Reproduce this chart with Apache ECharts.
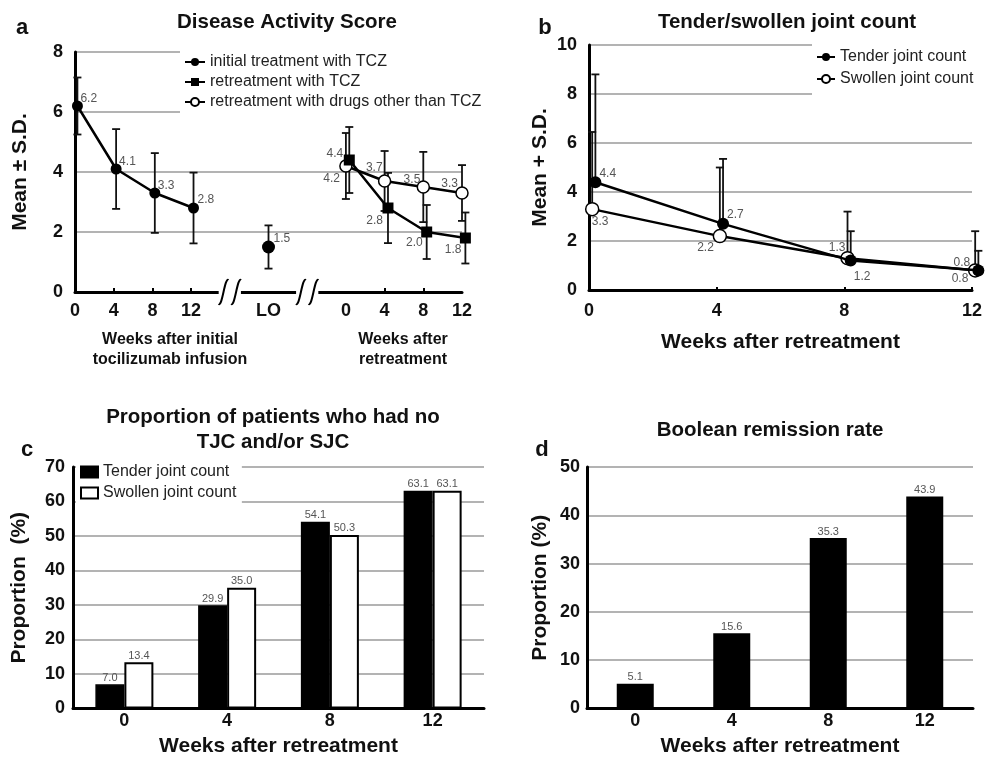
<!DOCTYPE html>
<html><head><meta charset="utf-8">
<script src="https://cdn.jsdelivr.net/npm/echarts@6/dist/echarts.min.js"></script>
<style>html,body{margin:0;padding:0;background:#fff}#c{width:985px;height:758px}</style>
</head><body><div id="c"></div>
<script>
// ---------- Panel a: Disease Activity Score ----------
const aTickPos = [0, 4, 8, 12, 20, 28, 32, 36, 40];
const aTickLabels = ['0', '4', '8', '12', 'LO', '0', '4', '8', '12'];
const aInitWeeks = [0, 4, 8, 12];
const aInitMean = [6.2, 4.1, 3.3, 2.8];
const aInitSD = [0.95, 1.33, 1.33, 1.18];
const aLOWeek = [20];
const aLOMean = [1.5];
const aLOSD = [0.72];
const aRetWeeks = [28, 32, 36, 40];
const aTczMean = [4.4, 2.8, 2.0, 1.8];
const aTczSD = [1.1, 1.17, 0.9, 0.85];
const aOtherMean = [4.2, 3.7, 3.5, 3.3];
const aOtherSD = [1.1, 1.0, 1.17, 0.93];
const aBreaks = [16, 24];
const aNames = ['initial treatment with TCZ', 'retreatment with TCZ', 'retreatment with drugs other than TCZ'];

// ---------- Panel b: Tender/swollen joint count ----------
const bWeeks = [0, 4, 8, 12];
const bTender = [4.4, 2.7, 1.2, 0.8];
const bTenderSD = [4.4, 2.65, 1.2, 0.8];
const bSwollen = [3.3, 2.2, 1.3, 0.8];
const bSwollenSD = [3.15, 2.8, 1.9, 1.6];
const bNames = ['Tender joint count', 'Swollen joint count'];

// ---------- Panel c: Proportion with no TJC/SJC ----------
const cWeeks = ['0', '4', '8', '12'];
const cTender = [7.0, 29.9, 54.1, 63.1];
const cSwollen = [13.4, 35.0, 50.3, 63.1];
const cNames = ['Tender joint count ', 'Swollen joint count '];

// ---------- Panel d: Boolean remission rate ----------
const dWeeks = ['0', '4', '8', '12'];
const dRemission = [5.1, 15.6, 35.3, 43.9];

// ---------- styling helpers ----------
const FONT = 'Liberation Sans, Arial, sans-serif';
const INK = '#111';
const LABEL_GREY = '#555';
const GRID_GREY = '#9a9a9a';

function lab(align, dx, dy) {
  return { show: true, position: 'inside', align: align, verticalAlign: 'middle', offset: [dx, dy],
    color: LABEL_GREY, fontSize: 12, fontFamily: FONT, formatter: p => p.value[1].toFixed(1) };
}
const aInitLab = [lab('left', 3, -7), lab('left', 3, -7), lab('left', 3, -7), lab('left', 4, -8)];
const aLOLab = [lab('left', 5, -8)];
const aTczLab = [lab('right', -6, -6), lab('right', -5, 13), lab('right', -4, 11), lab('right', -4, 12)];
const aOtherLab = [lab('right', -6, 13), lab('right', -2, -13), lab('right', -3, -7), lab('right', -4, -9)];
const bTenderLab = [lab('left', 4, -9), lab('left', 4, -9), lab('left', 3, 16), lab('right', -10, 8)];
const bSwollenLab = [lab('center', 8, 13), lab('right', -6, 12), lab('right', -2, -10), lab('right', -5, -8)];

const aInitOff = 0.25, aTczOff = 0.35, aOtherOff = 0.0;
const bTenderOff = 0.2, bSwollenOff = 0.1;

function pts(xs, ys, off, labs) {
  return ys.map((v, i) => ({ value: [xs[i] + off, v], label: labs[i] }));
}
function errs(xs, ys, sds, off, both) {
  return ys.map((v, i) => [xs[i] + off, both ? v - sds[i] : v, v + sds[i]]);
}
function errRender(capHalf, lowerCap) {
  return function (params, api) {
    const x = api.value(0), lo = api.value(1), hi = api.value(2);
    const p1 = api.coord([x, lo]), p2 = api.coord([x, hi]);
    const st = { stroke: '#111', lineWidth: 1.8 };
    const ch = [
      { type: 'line', shape: { x1: p1[0], y1: p1[1], x2: p2[0], y2: p2[1] }, style: st },
      { type: 'line', shape: { x1: p2[0] - capHalf, y1: p2[1], x2: p2[0] + capHalf, y2: p2[1] }, style: st }
    ];
    if (lowerCap) ch.push({ type: 'line', shape: { x1: p1[0] - capHalf, y1: p1[1], x2: p1[0] + capHalf, y2: p1[1] }, style: st });
    return { type: 'group', children: ch };
  };
}
function breakRender(params, api) {
  const c = api.value(0);
  const p = api.coord([c, 0]);
  const pl = api.coord([c - 1.15, 0]), pr = api.coord([c + 1.15, 0]);
  const sl = api.coord([c - 0.65, 0]), sr = api.coord([c + 0.65, 0]);
  const st = { stroke: '#000', lineWidth: 2, fill: null };
  function s(x) {
    return { type: 'bezierCurve', shape: { x1: x - 5, y1: p[1] + 12, cpx1: x - 1, cpy1: p[1] + 15, cpx2: x + 1, cpy2: p[1] - 15, x2: x + 5, y2: p[1] - 12 }, style: st };
  }
  return { type: 'group', children: [
    { type: 'rect', shape: { x: pl[0], y: p[1] - 3, width: pr[0] - pl[0], height: 6 }, style: { fill: '#fff' } },
    s(sl[0]), s(sr[0])
  ] };
}

const tickLabelStyle = { color: INK, fontSize: 18, fontWeight: 'bold', fontFamily: FONT };
const axisNameStyle = { color: INK, fontSize: 21, fontWeight: 'bold', fontFamily: FONT };
const thickLine = { show: true, lineStyle: { color: '#000', width: 3 } };
const gridSplit = { show: true, lineStyle: { color: GRID_GREY, width: 1.5 } };
const legendText = { fontSize: 16, color: '#222', fontFamily: FONT };

function txt(text, x, y, size, family) {
  return { type: 'text', z: 100, style: { text: text, x: x, y: y, font: 'bold ' + size + 'px ' + (family || FONT),
    fill: INK, textAlign: 'center', textVerticalAlign: 'middle', align: 'center', verticalAlign: 'middle' } };
}

const option = {
  animation: false,
  backgroundColor: '#fff',
  grid: [
    { left: 75, top: 52, right: 523, bottom: 466 },
    { left: 589, top: 45, right: 10, bottom: 468 },
    { left: 73, top: 467, right: 501, bottom: 49 },
    { left: 587, top: 467, right: 12, bottom: 49 }
  ],
  xAxis: [
    { gridIndex: 0, type: 'value', min: 0, max: 40, axisLine: thickLine,
      axisTick: { show: true, inside: true, length: 4, customValues: [4, 8, 12, 32, 36], lineStyle: { color: '#000', width: 2 } },
      axisLabel: Object.assign({ customValues: aTickPos, margin: 10, formatter: v => aTickLabels[aTickPos.indexOf(v)] }, tickLabelStyle),
      splitLine: { show: false } },
    { gridIndex: 1, type: 'value', min: 0, max: 12, interval: 4, axisLine: thickLine,
      axisTick: { show: true, inside: true, length: 3, lineStyle: { color: '#000', width: 2 } },
      axisLabel: Object.assign({ margin: 12 }, tickLabelStyle), splitLine: { show: false },
      name: 'Weeks after retreatment', nameLocation: 'middle', nameGap: 41.5, nameTextStyle: axisNameStyle },
    { gridIndex: 2, type: 'category', data: cWeeks, axisLine: thickLine, axisTick: { show: false },
      axisLabel: Object.assign({ margin: 4 }, tickLabelStyle),
      name: 'Weeks after retreatment', nameLocation: 'middle', nameGap: 27.5, nameTextStyle: axisNameStyle },
    { gridIndex: 3, type: 'category', data: dWeeks, axisLine: thickLine, axisTick: { show: false },
      axisLabel: Object.assign({ margin: 4 }, tickLabelStyle),
      name: 'Weeks after retreatment', nameLocation: 'middle', nameGap: 27.5, nameTextStyle: axisNameStyle }
  ],
  yAxis: [
    { gridIndex: 0, type: 'value', min: 0, max: 8, interval: 2, axisLine: thickLine, axisTick: { show: false },
      axisLabel: Object.assign({ margin: 12 }, tickLabelStyle), splitLine: gridSplit,
      name: 'Mean ± S.D.', nameLocation: 'middle', nameGap: 44.5, nameTextStyle: axisNameStyle },
    { gridIndex: 1, type: 'value', min: 0, max: 10, interval: 2, axisLine: thickLine, axisTick: { show: false },
      axisLabel: Object.assign({ margin: 12 }, tickLabelStyle), splitLine: gridSplit,
      name: 'Mean + S.D.', nameLocation: 'middle', nameGap: 38.5, nameTextStyle: axisNameStyle },
    { gridIndex: 2, type: 'value', min: 0, max: 70, interval: 10, axisLine: thickLine, axisTick: { show: false },
      axisLabel: Object.assign({ margin: 8 }, tickLabelStyle), splitLine: gridSplit,
      name: 'Proportion  (%)', nameLocation: 'middle', nameGap: 43.5, nameTextStyle: axisNameStyle },
    { gridIndex: 3, type: 'value', min: 0, max: 50, interval: 10, axisLine: thickLine, axisTick: { show: false },
      axisLabel: Object.assign({ margin: 7 }, tickLabelStyle), splitLine: gridSplit,
      name: 'Proportion (%)', nameLocation: 'middle', nameGap: 36.5, nameTextStyle: axisNameStyle }
  ],
  legend: [
    { data: aNames, left: 180, top: 48, orient: 'vertical', itemWidth: 20, itemHeight: 10, itemGap: 4,
      padding: [6, 8, 5, 4], backgroundColor: '#fff', textStyle: legendText, selectedMode: false, z: 20 },
    { data: bNames, left: 812, top: 40, orient: 'vertical', itemWidth: 18, itemHeight: 10, itemGap: 6,
      padding: [9, 12, 10, 4], backgroundColor: '#fff', textStyle: legendText, selectedMode: false, z: 20 },
    { data: cNames.map(n => ({ name: n, icon: 'rect' })), left: 76, top: 461, orient: 'vertical', itemWidth: 17, itemHeight: 11, itemGap: 5,
      padding: [3, 1, 3, 4], backgroundColor: '#fff', textStyle: legendText, selectedMode: false, z: 20 }
  ],
  graphic: [
    txt('a', 22, 28, 22),
    txt('Disease Activity Score', 287, 22, 20.5),
    txt('b', 545, 28, 22),
    txt('Tender/swollen joint count', 787, 22, 20.5),
    txt('c', 27, 450, 22),
    txt('Proportion of patients who had no', 273, 417, 20.5),
    txt('TJC and/or SJC', 273, 442, 20.5),
    txt('d', 542, 450, 22),
    txt('Boolean remission rate', 770, 430, 20.5),
    txt('Weeks after initial', 170, 340, 16),
    txt('tocilizumab infusion', 170, 360, 16),
    txt('Weeks after', 403, 340, 16),
    txt('retreatment', 403, 360, 16)
  ],
  series: [
    // panel a error bars
    { type: 'custom', xAxisIndex: 0, yAxisIndex: 0, renderItem: errRender(4, true), encode: { x: 0, y: [1, 2] }, clip: false, z: 1,
      data: errs(aInitWeeks, aInitMean, aInitSD, aInitOff, true) },
    { type: 'custom', xAxisIndex: 0, yAxisIndex: 0, renderItem: errRender(4, true), encode: { x: 0, y: [1, 2] }, clip: false, z: 1,
      data: errs(aLOWeek, aLOMean, aLOSD, 0, true) },
    { type: 'custom', xAxisIndex: 0, yAxisIndex: 0, renderItem: errRender(4, true), encode: { x: 0, y: [1, 2] }, clip: false, z: 1,
      data: errs(aRetWeeks, aTczMean, aTczSD, aTczOff, true) },
    { type: 'custom', xAxisIndex: 0, yAxisIndex: 0, renderItem: errRender(4, true), encode: { x: 0, y: [1, 2] }, clip: false, z: 1,
      data: errs(aRetWeeks, aOtherMean, aOtherSD, aOtherOff, true) },
    // panel a lines
    { name: aNames[0], type: 'line', xAxisIndex: 0, yAxisIndex: 0, clip: false, z: 3,
      symbol: 'circle', symbolSize: 11, itemStyle: { color: '#000' }, lineStyle: { color: '#000', width: 2.5 },
      data: pts(aInitWeeks, aInitMean, aInitOff, aInitLab) },
    { name: 'LO', type: 'line', xAxisIndex: 0, yAxisIndex: 0, clip: false, z: 3,
      symbol: 'circle', symbolSize: 13, itemStyle: { color: '#000' }, lineStyle: { width: 0 },
      data: pts(aLOWeek, aLOMean, 0, aLOLab) },
    { name: aNames[1], type: 'line', xAxisIndex: 0, yAxisIndex: 0, clip: false, z: 4,
      symbol: 'rect', symbolSize: 11, itemStyle: { color: '#000' }, lineStyle: { color: '#000', width: 2.5 },
      data: pts(aRetWeeks, aTczMean, aTczOff, aTczLab) },
    { name: aNames[2], type: 'line', xAxisIndex: 0, yAxisIndex: 0, clip: false, z: 3,
      symbol: 'circle', symbolSize: 12, itemStyle: { color: '#fff', borderColor: '#000', borderWidth: 1.5 },
      lineStyle: { color: '#000', width: 2.5 },
      data: pts(aRetWeeks, aOtherMean, aOtherOff, aOtherLab) },
    // panel a axis breaks
    { type: 'custom', xAxisIndex: 0, yAxisIndex: 0, renderItem: breakRender, encode: { x: 0 }, clip: false, z: 10, silent: true,
      data: aBreaks.map(v => [v]) },
    // panel b error bars (mean + SD)
    { type: 'custom', xAxisIndex: 1, yAxisIndex: 1, renderItem: errRender(4, false), encode: { x: 0, y: [1, 2] }, clip: false, z: 1,
      data: errs(bWeeks, bTender, bTenderSD, bTenderOff, false) },
    { type: 'custom', xAxisIndex: 1, yAxisIndex: 1, renderItem: errRender(4, false), encode: { x: 0, y: [1, 2] }, clip: false, z: 1,
      data: errs(bWeeks, bSwollen, bSwollenSD, bSwollenOff, false) },
    // panel b lines
    { name: bNames[0], type: 'line', xAxisIndex: 1, yAxisIndex: 1, clip: false, z: 4,
      symbol: 'circle', symbolSize: 12, itemStyle: { color: '#000' }, lineStyle: { color: '#000', width: 2.5 },
      data: pts(bWeeks, bTender, bTenderOff, bTenderLab) },
    { name: bNames[1], type: 'line', xAxisIndex: 1, yAxisIndex: 1, clip: false, z: 3,
      symbol: 'circle', symbolSize: 13, itemStyle: { color: '#fff', borderColor: '#000', borderWidth: 1.5 },
      lineStyle: { color: '#000', width: 2.5 },
      data: pts(bWeeks, bSwollen, bSwollenOff, bSwollenLab) },
    // panel c bars
    { name: cNames[0], type: 'bar', xAxisIndex: 2, yAxisIndex: 2, barWidth: 29, barGap: '0%',
      itemStyle: { color: '#000', borderColor: '#000', borderWidth: 1.5 },
      label: { show: true, position: 'top', distance: 1, color: LABEL_GREY, fontSize: 11, fontFamily: FONT, formatter: p => p.value.toFixed(1) },
      data: cTender },
    { name: cNames[1], type: 'bar', xAxisIndex: 2, yAxisIndex: 2, barWidth: 29, barGap: '0%',
      itemStyle: { color: '#fff', borderColor: '#000', borderWidth: 2 },
      label: { show: true, position: 'top', distance: 1, color: LABEL_GREY, fontSize: 11, fontFamily: FONT, formatter: p => p.value.toFixed(1) },
      data: cSwollen },
    // panel d bars
    { name: 'Boolean remission', type: 'bar', xAxisIndex: 3, yAxisIndex: 3, barWidth: 37,
      itemStyle: { color: '#000' },
      label: { show: true, position: 'top', distance: 1, color: LABEL_GREY, fontSize: 11, fontFamily: FONT },
      data: dRemission }
  ]
};

const chart = echarts.init(document.getElementById('c'), null, { renderer: 'canvas' });
chart.setOption(option);
</script>
</body></html>
